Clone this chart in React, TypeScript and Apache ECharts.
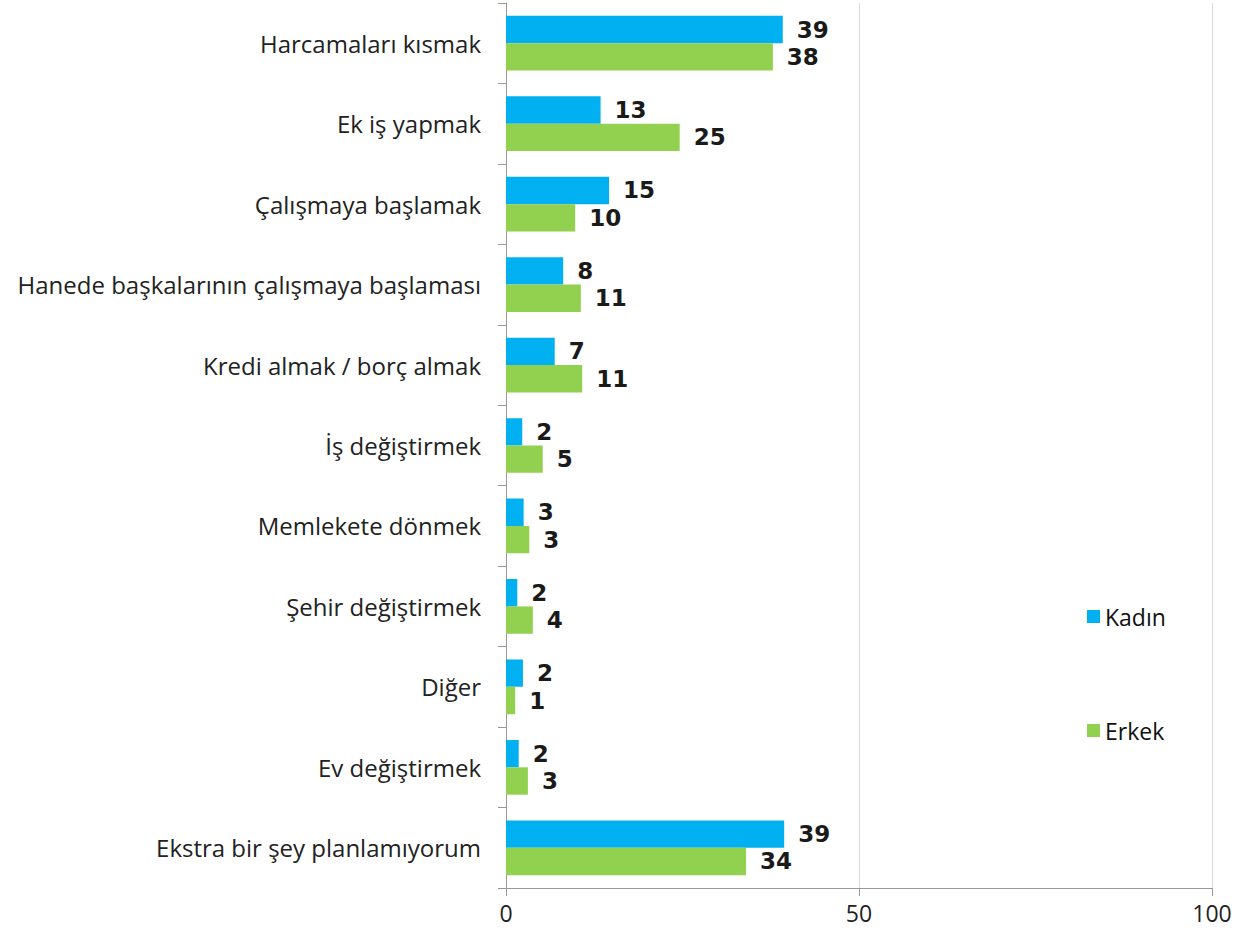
import React, { useEffect, useRef } from "react";
import * as echarts from "echarts";

const categories = [
  "Harcamaları kısmak",
  "Ek iş yapmak",
  "Çalışmaya başlamak",
  "Hanede başkalarının çalışmaya başlaması",
  "Kredi almak / borç almak",
  "İş değiştirmek",
  "Memlekete dönmek",
  "Şehir değiştirmek",
  "Diğer",
  "Ev değiştirmek",
  "Ekstra bir şey planlamıyorum",
];
const kadin = [39.2, 13.4, 14.6, 8.1, 6.9, 2.3, 2.5, 1.6, 2.4, 1.8, 39.4];
const erkek = [37.8, 24.6, 9.8, 10.6, 10.8, 5.2, 3.3, 3.8, 1.3, 3.1, 34.0];
const seriesNames = ["Kadın", "Erkek"];
const xTicks = { min: 0, max: 100, interval: 50 };

export default function App() {
  const ref = useRef<HTMLDivElement>(null);
  useEffect(() => {
    if (!ref.current) return;
    const chart = echarts.init(ref.current, null, { renderer: "svg" });
    const labelStyle = {
      show: true,
      position: "right" as const,
      distance: 14,
      fontFamily: "DejaVu Sans",
      fontWeight: "bold" as const,
      fontSize: 23,
      color: "#1a1a1a",
      formatter: (p: any) => String(Math.round(p.value)),
    };
    chart.setOption({
      animation: false,
      backgroundColor: "#fff",
      textStyle: { fontFamily: "Open Sans" },
      legend: {
        orient: "vertical",
        left: 1082,
        top: 600,
        itemWidth: 13,
        itemHeight: 13,
        itemGap: 91,
        icon: "rect",
        textStyle: { fontSize: 23, color: "#111", fontFamily: "Open Sans" },
        data: seriesNames,
      },
      grid: { left: 506, top: 3, width: 706, height: 885, containLabel: false },
      xAxis: {
        type: "value",
        min: xTicks.min,
        max: xTicks.max,
        interval: xTicks.interval,
        axisLine: { show: true, lineStyle: { color: "#999", width: 1 } },
        axisTick: { show: true, length: 8, lineStyle: { color: "#999" } },
        axisLabel: { fontSize: 23, color: "#222", margin: 13, fontFamily: "Open Sans" },
        splitLine: { show: true, lineStyle: { color: "#d9d9d9" } },
      },
      yAxis: {
        type: "category",
        inverse: true,
        data: categories,
        axisLine: { show: true, lineStyle: { color: "#999" } },
        axisTick: { show: true, length: 8, lineStyle: { color: "#999" } },
        axisLabel: { fontSize: 24, color: "#222", margin: 25, fontFamily: "Open Sans" },
      },
      series: [
        {
          name: seriesNames[0],
          type: "bar",
          data: kadin,
          itemStyle: { color: "#00b0f0" },
          barGap: "0%",
          barCategoryGap: "32%",
          label: labelStyle,
        },
        {
          name: seriesNames[1],
          type: "bar",
          data: erkek,
          itemStyle: { color: "#92d050" },
          barGap: "0%",
          barCategoryGap: "32%",
          label: labelStyle,
        },
      ],
    });
    return () => chart.dispose();
  }, []);
  return (
    <div
      ref={ref}
      style={{ position: "fixed", left: 0, top: 0, width: 1252, height: 938 }}
    />
  );
}
